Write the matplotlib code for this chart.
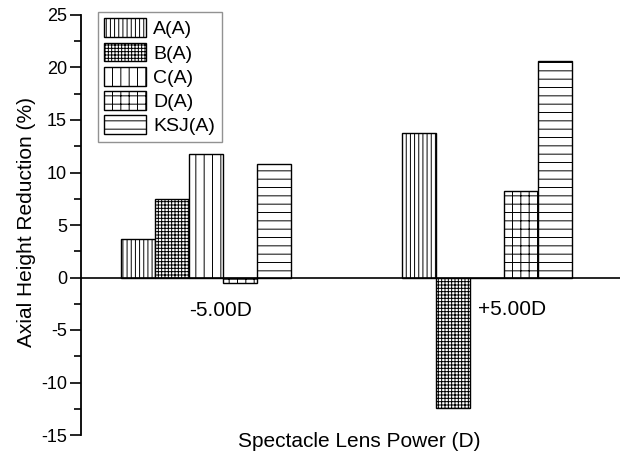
import matplotlib
matplotlib.use("Agg")
import matplotlib.pyplot as plt
import numpy as np
from matplotlib.ticker import MultipleLocator

plt.rcParams['font.family'] = ['Liberation Sans', 'DejaVu Sans']
plt.rcParams['hatch.linewidth'] = 0.7
plt.rcParams['axes.unicode_minus'] = False

groups = ["-5.00D", "+5.00D"]
series = ["A(A)", "B(A)", "C(A)", "D(A)", "KSJ(A)"]
values = {
    "A(A)":   [3.7, 13.8],
    "B(A)":   [7.5, -12.4],
    "C(A)":   [11.8, 0.0],
    "D(A)":   [-0.5, 8.2],
    "KSJ(A)": [10.8, 20.6],
}
hatches = ["||||", "+++++", "||", "++", "--"]

fig = plt.figure(figsize=(6.2, 4.61), dpi=100)
ax = fig.add_axes([81/620, 1 - 435/461, 539/620, 420/461])

width = 0.121
x = np.arange(len(groups))
for i, (name, h) in enumerate(zip(series, hatches)):
    offs = (i - 2) * width
    ax.bar(x + offs, values[name], width, facecolor='white',
           edgecolor='black', linewidth=1.0, hatch=h, label=name)

ax.axhline(0, color='black', linewidth=1.2)

ax.set_xlim(-0.445, 1.473)
ax.set_ylim(-15, 25)
ax.yaxis.set_major_locator(MultipleLocator(5))
ax.yaxis.set_minor_locator(MultipleLocator(2.5))
ax.tick_params(axis='y', which='major', length=8, width=1.2, labelsize=13,
               direction='out', pad=2)
ax.tick_params(axis='y', which='minor', length=5, width=1.2, direction='out')
ax.set_xticks([])
for s in ['top', 'right', 'bottom']:
    ax.spines[s].set_visible(False)
ax.spines['left'].set_linewidth(1.3)

fig.text(27/620, 1 - 222/461, "Axial Height Reduction (%)", fontsize=15,
         rotation=90, ha='center', va='center')
fig.text(359/620, 1 - 441/461, "Spectacle Lens Power (D)", fontsize=15,
         ha='center', va='center')

# group labels placed beneath the zero line
ax.text(0.053, -3.1, groups[0], fontsize=15, ha='center', va='center')
ax.text(1.089, -3.05, groups[1], fontsize=15, ha='center', va='center')

leg = ax.legend(loc='upper left', bbox_to_anchor=(17/539, 1 + 3/420), fontsize=14,
                frameon=True, fancybox=False, edgecolor='#777777',
                handlelength=2.15, handleheight=1.1, handletextpad=0.36,
                labelspacing=0.22, borderpad=0.33, borderaxespad=0.0)
leg.get_frame().set_linewidth(1.0)

fig.savefig("out.png", dpi=100)
